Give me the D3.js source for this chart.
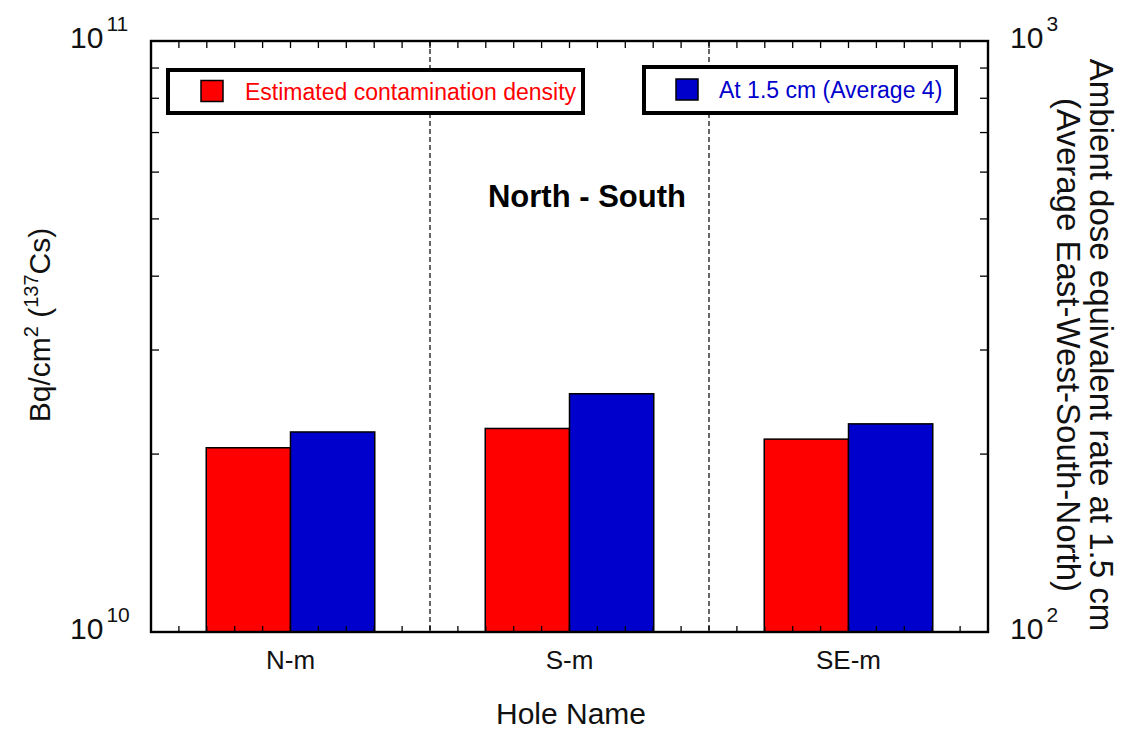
<!DOCTYPE html>
<html><head><meta charset="utf-8">
<script src="https://cdn.jsdelivr.net/npm/d3@7"></script>
<style>body{margin:0;background:#fff}svg{display:block}text{font-family:"Liberation Sans",Arial,sans-serif}</style>
</head><body>
<svg id="c" width="1122" height="731"></svg>
<script>
const categories = ["N-m", "S-m", "SE-m"];
const contamination = [2.05e10, 2.21e10, 2.12e10];   // Bq/cm2, left axis
const doseRate = [218, 253, 225];                    // right axis
const leftTicks = [1e10, 1e11];
const rightTicks = [1e2, 1e3];
const seriesNames = ["Estimated contamination density", "At 1.5 cm (Average 4)"];
const colors = ["#ff0000", "#0000cc"];

const svg = d3.select("#c");
const L = 151, R = 988, T = 41, B = 632;

const x = d3.scaleBand().domain(categories).range([L, R]).padding(0);
const xLin = d3.scaleLinear().domain([0, categories.length]).range([L, R]);
const yL = d3.scaleLog().domain([1e10, 1e11]).range([B, T]);
const yR = d3.scaleLog().domain([1e2, 1e3]).range([B, T]);
const bw = x.bandwidth() * 0.302;

// separators
categories.slice(1).forEach((c) => {
  svg.append("line").attr("x1", x(c)).attr("x2", x(c)).attr("y1", T).attr("y2", B)
    .attr("stroke", "#000").attr("stroke-width", 1.2).attr("stroke-dasharray", "5,3");
});

// bars
const g = svg.append("g");
categories.forEach((c, i) => {
  const cx = x(c) + x.bandwidth() / 2;
  g.append("rect").attr("x", cx - bw).attr("width", bw)
    .attr("y", yL(contamination[i])).attr("height", B - yL(contamination[i]))
    .attr("fill", colors[0]).attr("stroke", "#000").attr("stroke-width", 1.5);
  g.append("rect").attr("x", cx).attr("width", bw)
    .attr("y", yR(doseRate[i])).attr("height", B - yR(doseRate[i]))
    .attr("fill", colors[1]).attr("stroke", "#000").attr("stroke-width", 1.5);
});

// minor ticks
const minorL = yL.ticks(10).filter(v => v > 1e10 && v < 1e11);
const minorR = yR.ticks(10).filter(v => v > 1e2 && v < 1e3);
minorL.forEach(v => svg.append("line").attr("x1", L).attr("x2", L + 8).attr("y1", yL(v)).attr("y2", yL(v)).attr("stroke", "#000").attr("stroke-width", 1.3));
minorR.forEach(v => svg.append("line").attr("x1", R).attr("x2", R - 8).attr("y1", yR(v)).attr("y2", yR(v)).attr("stroke", "#000").attr("stroke-width", 1.3));
xLin.ticks(30).filter(v => v > 0 && v < categories.length).forEach(v => {
  svg.append("line").attr("x1", xLin(v)).attr("x2", xLin(v)).attr("y1", T).attr("y2", T + 7).attr("stroke", "#000").attr("stroke-width", 1.3);
  svg.append("line").attr("x1", xLin(v)).attr("x2", xLin(v)).attr("y1", B).attr("y2", B - 6).attr("stroke", "#000").attr("stroke-width", 1.3);
});

// frame
svg.append("rect").attr("x", L).attr("y", T).attr("width", R - L).attr("height", B - T)
  .attr("fill", "none").attr("stroke", "#000").attr("stroke-width", 2.4);

// tick labels (powers of ten)
function pow10(xp, yp, v) {
  const e = Math.round(Math.log10(v));
  const t = svg.append("text").attr("x", xp).attr("y", yp).attr("font-size", 30).attr("fill", "#111");
  t.append("tspan").text("10");
  t.append("tspan").attr("dx", 3).attr("dy", -17).attr("font-size", 21).text(e);
}
leftTicks.forEach(v => pow10(70, yL(v) + 7, v));
rightTicks.forEach(v => pow10(1010, yR(v) + 7, v));

// category labels
categories.forEach(c => svg.append("text").attr("x", x(c) + x.bandwidth() / 2).attr("y", 669)
  .attr("text-anchor", "middle").attr("font-size", 26).attr("fill", "#111").text(c));

svg.append("text").attr("x", 571).attr("y", 724).attr("text-anchor", "middle").attr("font-size", 30).attr("fill", "#111").text("Hole Name");

// left y label
const yl = svg.append("text").attr("transform", "translate(50,325) rotate(-90)").attr("text-anchor", "middle").attr("font-size", 30).attr("fill", "#111");
yl.append("tspan").text("Bq/cm");
yl.append("tspan").attr("dy", -12).attr("font-size", 20).text("2");
yl.append("tspan").attr("dy", 12).text("  (");
yl.append("tspan").attr("dy", -12).attr("font-size", 20).text("137");
yl.append("tspan").attr("dy", 12).text("Cs)");

// right y label
const rl = svg.append("text").attr("transform", "translate(1090,345) rotate(90)").attr("text-anchor", "middle").attr("font-size", 33).attr("fill", "#111");
rl.append("tspan").attr("x", 0).attr("dy", 0).text("Ambient dose equivalent rate at 1.5 cm");
rl.append("tspan").attr("x", 0).attr("dy", 33).text("(Average East-West-South-North)");

// title
svg.append("text").attr("x", 587).attr("y", 207).attr("text-anchor", "middle").attr("font-size", 31).attr("font-weight", "bold").attr("fill", "#000").text("North - South");

// legends
const legends = [
  {x0: 168, x1: 583, y0: 70, y1: 113, sw: 201, tx: 245},
  {x0: 644, x1: 956, y0: 67, y1: 113, sw: 676, tx: 719}
];
legends.forEach((lg, i) => {
  svg.append("rect").attr("x", lg.x0).attr("y", lg.y0).attr("width", lg.x1 - lg.x0).attr("height", lg.y1 - lg.y0)
    .attr("fill", "#fff").attr("stroke", "#000").attr("stroke-width", 4);
  const cy = (lg.y0 + lg.y1) / 2;
  svg.append("rect").attr("x", lg.sw).attr("y", cy - 11).attr("width", 22).attr("height", 21)
    .attr("fill", colors[i]).attr("stroke", "#000").attr("stroke-width", 1.5);
  svg.append("text").attr("x", lg.tx).attr("y", cy + 8).attr("font-size", 23).attr("fill", colors[i]).text(seriesNames[i]);
});
</script>
</body></html>
